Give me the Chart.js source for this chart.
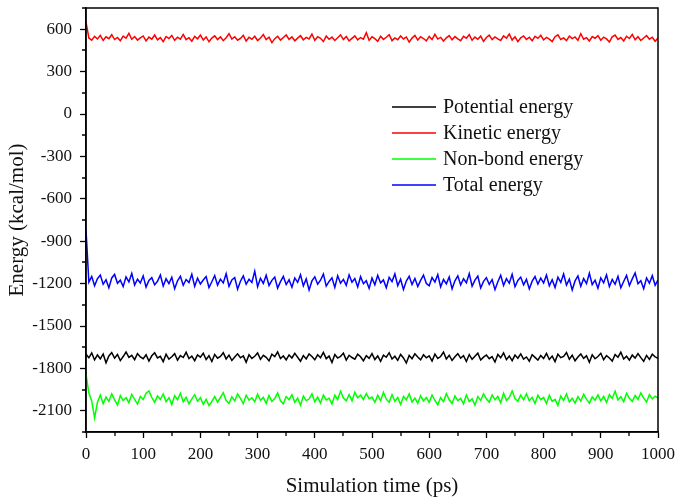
<!DOCTYPE html>
<html>
<head>
<meta charset="utf-8">
<script src="https://cdn.jsdelivr.net/npm/chart.js@4"></script>
<style>
  html, body { margin: 0; padding: 0; background: #fff; }
  #wrap { width: 676px; height: 497px; }
</style>
</head>
<body>
<div id="wrap"><canvas id="energyChart"></canvas></div>
<script>
// simulation time (ps), one sample every 5 ps
const times = Array.from({ length: 201 }, (_, i) => i * 5);

const seriesNames = ['Potential energy', 'Kinetic energy', 'Non-bond energy', 'Total energy'];
const seriesColors = ['#000000', '#ff0000', '#00ff00', '#0000ff'];

const xTicks = [0, 100, 200, 300, 400, 500, 600, 700, 800, 900, 1000];
const yTicks = [-2100, -1800, -1500, -1200, -900, -600, -300, 0, 300, 600];

const potential = [
  -1700, -1725, -1690, -1740, -1705, -1732, -1698, -1760, -1712, -1688, -1728, -1702, -1745, -1716, -1684, -1722, -1708, -1738, -1695, -1719,
  -1731, -1703, -1748, -1711, -1690, -1726, -1715, -1752, -1700, -1734, -1718, -1696, -1742, -1709, -1723, -1686, -1730, -1713, -1745, -1704,
  -1720, -1693, -1737, -1710, -1751, -1701, -1728, -1715, -1689, -1733, -1706, -1744, -1719, -1697, -1725, -1711, -1756, -1703, -1729, -1714,
  -1691, -1736, -1708, -1722, -1747, -1700, -1717, -1683, -1730, -1712, -1740, -1705, -1726, -1694, -1721, -1749, -1709, -1733, -1698, -1716,
  -1739, -1704, -1724, -1687, -1731, -1713, -1758, -1702, -1727, -1716, -1692, -1741, -1707, -1723, -1735, -1699, -1718, -1746, -1710, -1729,
  -1695, -1737, -1712, -1750, -1706, -1721, -1689, -1734, -1714, -1743, -1701, -1726, -1762, -1708, -1731, -1697, -1719, -1739, -1704, -1725,
  -1711, -1748, -1699, -1729, -1716, -1685, -1733, -1707, -1744, -1718, -1696, -1727, -1710, -1751, -1702, -1736, -1714, -1692, -1740, -1720,
  -1705, -1731, -1717, -1755, -1701, -1725, -1690, -1738, -1712, -1745, -1706, -1728, -1697, -1734, -1719, -1749, -1703, -1722, -1741, -1709,
  -1730, -1694, -1737, -1713, -1752, -1700, -1724, -1715, -1688, -1735, -1707, -1746, -1720, -1698, -1729, -1711, -1757, -1704, -1732, -1716,
  -1693, -1739, -1710, -1726, -1748, -1702, -1721, -1686, -1733, -1714, -1742, -1706, -1727, -1695, -1724, -1750, -1708, -1736, -1700, -1718,
  -1728
];

const kinetic = [
  650, 538, 522, 549, 531, 557, 520, 546, 533, 561, 527, 542, 518, 551, 536, 570, 529, 548, 523, 539,
  552, 517, 544, 530, 559, 525, 541, 512, 548, 534, 556, 521, 543, 529, 563, 526, 540, 515, 549, 532,
  558, 524, 545, 511, 537, 553, 527, 546, 519, 540, 568, 530, 547, 522, 535, 557, 516, 543, 529, 550,
  520, 538, 562, 526, 544, 505, 533, 549, 523, 541, 559, 528, 546, 518, 537, 554, 525, 542, 531, 566,
  522, 547, 536, 513, 551, 529, 544, 520, 539, 560, 527, 548, 517, 535, 553, 524, 541, 530, 575, 521,
  546, 533, 514, 550, 528, 543, 561, 519, 538, 526, 552, 531, 545, 508, 537, 556, 523, 547, 534, 518,
  549, 527, 564, 530, 542, 516, 539, 555, 525, 548, 532, 519, 550, 536, 562, 522, 544, 529, 551, 514,
  541, 558, 526, 545, 531, 520, 553, 537, 566, 523, 546, 512, 539, 552, 528, 543, 518, 549, 535, 557,
  524, 542, 530, 513, 547, 560, 527, 538, 519, 551, 533, 545, 521, 568, 529, 540, 516, 548, 536, 554,
  522, 544, 531, 509, 546, 559, 528, 541, 517, 550, 534, 563, 525, 547, 520, 538, 555, 529, 543, 515,
  537
];

const nonBond = [
  -1840, -1975, -2030, -2150, -2040, -1990, -2050, -2003, -2033, -1980, -2023, -2058, -1993, -2028, -2008, -2043, -1983, -2020, -2053, -1998,
  -2020, -1975, -1960, -2005, -2040, -1995, -2020, -1981, -2035, -2008, -2056, -1993, -2022, -1976, -2036, -2004, -2050, -2015, -1986, -2032,
  -2007, -2054, -2019, -2063, -2034, -2000, -2039, -2006, -1972, -2027, -2048, -2001, -2030, -1980, -2012, -2050, -1990, -2025, -2008, -2036,
  -1982, -2025, -2005, -2047, -1991, -2034, -2014, -1973, -2029, -2051, -1999, -2021, -1987, -2040, -2010, -2061, -1996, -2028, -2017, -1980,
  -2036, -2003, -2045, -1989, -2023, -2011, -2052, -1990, -2020, -1962, -2010, -2030, -1985, -2030, -1968, -2008, -1990, -2020, -1978, -2014,
  -2003, -2040, -1990, -2028, -1970, -2018, -2040, -1986, -2033, -2006, -2055, -1998, -2022, -1980, -2038, -2010, -2046, -1994, -2030, -2006,
  -2040, -1988, -2027, -2058, -2006, -2035, -1979, -2022, -2048, -1995, -2028, -2012, -2050, -1989, -2034, -2015, -2060, -1999, -2026, -1981,
  -2015, -2040, -1988, -2022, -1998, -2043, -1976, -2026, -2006, -1960, -2014, -2032, -1989, -2022, -1980, -2030, -2005, -2048, -1990, -2021,
  -2005, -2049, -1990, -2034, -2019, -2062, -1996, -2027, -1981, -2038, -2011, -2045, -2000, -2032, -1982, -2018, -2046, -2002, -2025, -1988,
  -2030, -1998, -2042, -1985, -2013, -1962, -2024, -2000, -2036, -1977, -2012, -2033, -1991, -2020, -1974, -2010, -2038, -1985, -2016, -1997,
  -2008
];

const total = [
  -820, -1190, -1150, -1215, -1165, -1140, -1205, -1172, -1230, -1160, -1135, -1198, -1176, -1221, -1152, -1188, -1128, -1210, -1169, -1196,
  -1145, -1225, -1178, -1158, -1209, -1184, -1139, -1217, -1166, -1200, -1155, -1236, -1180, -1148, -1212, -1171, -1193, -1134, -1220, -1162,
  -1203, -1175, -1150, -1228, -1187, -1143, -1211, -1168, -1195, -1130, -1219, -1174, -1157, -1240, -1183, -1146, -1205, -1170, -1192, -1112,
  -1222, -1163, -1199, -1141, -1213, -1177, -1154, -1232, -1186, -1149, -1207, -1173, -1226, -1160, -1191, -1137, -1216, -1167, -1245, -1181,
  -1152, -1204, -1176, -1133, -1218, -1185, -1159, -1227, -1144, -1197, -1170, -1212, -1138, -1190, -1164, -1224, -1151, -1201, -1179, -1234,
  -1161, -1208, -1142, -1195, -1174, -1229, -1156, -1186, -1131, -1214, -1169, -1241, -1182, -1148, -1206, -1163, -1220, -1177, -1140, -1199,
  -1215, -1157, -1189, -1136, -1223, -1171, -1202, -1153, -1237, -1180, -1145, -1210, -1166, -1194, -1129, -1218, -1175, -1147, -1231, -1184,
  -1158, -1206, -1172, -1243, -1187, -1141, -1213, -1165, -1198, -1134, -1222, -1178, -1154, -1209, -1170, -1238, -1183, -1150, -1204, -1161,
  -1196, -1139, -1216, -1173, -1228, -1155, -1192, -1132, -1211, -1168, -1245, -1181, -1146, -1219, -1164, -1200, -1127, -1207, -1176, -1233,
  -1159, -1194, -1138, -1221, -1171, -1205, -1149, -1230, -1185, -1142, -1214, -1167, -1125, -1201, -1179, -1236, -1160, -1197, -1144, -1212,
  -1174
];

const seriesValues = [potential, kinetic, nonBond, total];

const serif = "'Liberation Serif', 'Times New Roman', serif";

// box around the plot + short minor ticks
const framePlugin = {
  id: 'frame',
  afterDraw(chart) {
    const { ctx, chartArea: a, scales } = chart;
    ctx.save();
    ctx.strokeStyle = '#000';
    ctx.lineWidth = 1.5;
    ctx.strokeRect(a.left, a.top, a.right - a.left, a.bottom - a.top);
    ctx.lineWidth = 1.3;
    ctx.beginPath();
    for (let v = 50; v < 1000; v += 100) {
      const x = Math.round(scales.x.getPixelForValue(v));
      ctx.moveTo(x, a.bottom);
      ctx.lineTo(x, a.bottom + 4);
    }
    for (let v = -2250; v <= 750; v += 300) {
      const y = Math.round(scales.y.getPixelForValue(v));
      ctx.moveTo(a.left, y);
      ctx.lineTo(a.left - 4, y);
    }
    ctx.stroke();
    ctx.restore();
  }
};

// legend drawn inside the plot
const innerLegend = {
  id: 'innerLegend',
  afterDatasetsDraw(chart) {
    const { ctx } = chart;
    ctx.save();
    ctx.font = '20px ' + serif;
    ctx.textBaseline = 'middle';
    chart.data.datasets.forEach((ds, i) => {
      const y = 107 + i * 26;
      ctx.strokeStyle = ds.borderColor;
      ctx.lineWidth = 1.5;
      ctx.beginPath();
      ctx.moveTo(392, y);
      ctx.lineTo(436, y);
      ctx.stroke();
      ctx.fillStyle = '#111';
      ctx.fillText(ds.label, 443, y + 1);
    });
    ctx.restore();
  }
};

new Chart(document.getElementById('energyChart'), {
  type: 'line',
  data: {
    datasets: seriesNames.map((name, i) => ({
      label: name,
      data: times.map((t, j) => ({ x: t, y: seriesValues[i][j] })),
      borderColor: seriesColors[i],
      borderWidth: 1.5,
      pointRadius: 0,
      tension: 0,
      fill: false
    }))
  },
  options: {
    responsive: true,
    maintainAspectRatio: false,
    animation: false,
    layout: { padding: { left: 0, top: 8, right: 18, bottom: 0 } },
    plugins: {
      legend: { display: false },
      tooltip: { enabled: false }
    },
    scales: {
      x: {
        type: 'linear',
        min: 0,
        max: 1000,
        afterFit(scale) {
          scale.height = 65;
          scale.paddingLeft = 0;
          scale.paddingRight = 0;
        },
        afterBuildTicks(scale) { scale.ticks = xTicks.map((v) => ({ value: v })); },
        border: { color: '#000', width: 1.5 },
        grid: {
          drawOnChartArea: false,
          tickLength: 6,
          tickColor: '#000',
          tickWidth: 1.3
        },
        ticks: {
          maxRotation: 0,
          autoSkip: false,
          padding: 6,
          color: '#111',
          font: { family: serif, size: 17 },
          callback: (v) => String(v)
        },
        title: {
          display: true,
          text: 'Simulation time (ps)',
          color: '#111',
          font: { family: serif, size: 21, lineHeight: 1 },
          padding: { top: 0, bottom: 0 }
        }
      },
      y: {
        min: -2250,
        max: 750,
        afterFit(scale) {
          scale.width = 86;
          scale.paddingTop = 0;
          scale.paddingBottom = 0;
        },
        afterBuildTicks(scale) { scale.ticks = yTicks.map((v) => ({ value: v })); },
        border: { color: '#000', width: 1.5 },
        grid: {
          drawOnChartArea: false,
          tickLength: 6,
          tickColor: '#000',
          tickWidth: 1.3
        },
        ticks: {
          autoSkip: false,
          padding: 8,
          color: '#111',
          font: { family: serif, size: 17 },
          callback: (v) => String(v)
        },
        title: {
          display: true,
          text: 'Energy (kcal/mol)',
          color: '#111',
          font: { family: serif, size: 21, lineHeight: 1 },
          padding: { top: 7, bottom: 0 }
        }
      }
    }
  },
  plugins: [framePlugin, innerLegend]
});
</script>
</body>
</html>
